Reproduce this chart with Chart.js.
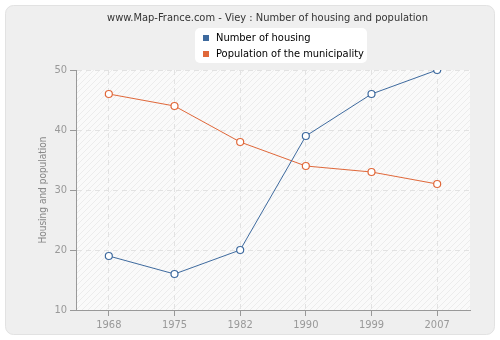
<!DOCTYPE html>
<html lang="en">
<head>
    <meta charset="UTF-8">
    <title>Viey : Number of housing and population</title>
    <script src="https://cdn.jsdelivr.net/npm/chart.js"></script>
    <style>
        body { margin: 0; background: #fff; font-family: "DejaVu Sans Condensed", "DejaVu Sans", sans-serif; }
        .wrap { position: relative; width: 500px; height: 340px; }
        .chart-title {
            position: absolute; top: 11px; left: 0; width: 535px;
            text-align: center; font-size: 11px; color: #333; white-space: nowrap;
        }
        .legend {
            position: absolute; left: 195px; top: 28px; width: 172px; height: 35px;
            background: #fff; border-radius: 5px; font-size: 11px; color: #000;
        }
        .legend div { position: relative; padding-left: 21px; height: 16px; line-height: 16px; white-space: nowrap; }
        .legend div:first-child { margin-top: 2px; }
        .legend span {
            position: absolute; left: 8px; top: 5px; width: 6px; height: 6px;
        }
    </style>
</head>
<body>
<div class="wrap">
    <canvas id="chart" width="500" height="340"></canvas>
    <div class="chart-title">www.Map-France.com - Viey : Number of housing and population</div>
    <div class="legend">
        <div><span style="background:#3e6a9e"></span>Number of housing</div>
        <div><span style="background:#e0683a"></span>Population of the municipality</div>
    </div>
</div>
<script>
    const years = ["1968", "1975", "1982", "1990", "1999", "2007"];
    const housing = [19, 16, 20, 39, 46, 50];
    const population = [46, 44, 38, 34, 33, 31];

    const font = "'DejaVu Sans Condensed', 'DejaVu Sans', sans-serif";

    // page frame + hatched plot background
    const backdrop = {
        id: "backdrop",
        beforeDraw(chart) {
            const ctx = chart.ctx;
            const a = chart.chartArea;
            ctx.save();
            ctx.fillStyle = "#fff";
            ctx.fillRect(0, 0, chart.width, chart.height);
            ctx.beginPath();
            ctx.roundRect(5.5, 5.5, 489, 329, 8);
            ctx.fillStyle = "#efefef";
            ctx.fill();
            ctx.strokeStyle = "#e2e2e2";
            ctx.stroke();

            ctx.fillStyle = "#fafafa";
            ctx.fillRect(a.left, a.top, a.right - a.left, a.bottom - a.top);
            ctx.beginPath();
            ctx.rect(a.left, a.top, a.right - a.left, a.bottom - a.top);
            ctx.clip();
            ctx.strokeStyle = "#ececec";
            ctx.lineWidth = 1;
            for (let x = a.left - (a.bottom - a.top); x < a.right; x += 6) {
                ctx.beginPath();
                ctx.moveTo(x, a.bottom);
                ctx.lineTo(x + (a.bottom - a.top), a.top);
                ctx.stroke();
            }
            ctx.restore();
        }
    };

    new Chart(document.getElementById("chart"), {
        type: "line",
        data: {
            labels: years,
            datasets: [{
                label: "Number of housing",
                data: housing,
                borderColor: "#3e6a9e",
                backgroundColor: "#fff",
                borderWidth: 1,
                pointRadius: 3.5,
                pointBorderWidth: 1.2,
                tension: 0
            }, {
                label: "Population of the municipality",
                data: population,
                borderColor: "#e0683a",
                backgroundColor: "#fff",
                borderWidth: 1,
                pointRadius: 3.5,
                pointBorderWidth: 1.2,
                tension: 0
            }]
        },
        options: {
            responsive: false,
            animation: false,
            layout: { padding: { left: 0, right: 30, top: 70, bottom: 0 } },
            plugins: {
                legend: { display: false },
                title: { display: false },
                tooltip: { enabled: false }
            },
            scales: {
                x: {
                    offset: true,
                    afterFit(s) { s.height = 30; },
                    grid: { color: "#e2e2e2", tickColor: "#999", tickLength: 6 },
                    border: { color: "#999", dash: [5, 4] },
                    ticks: { color: "#999", font: { family: font, size: 11 }, padding: 3 }
                },
                y: {
                    min: 10, max: 50,
                    afterFit(s) { s.width = 76; },
                    grid: { color: "#e2e2e2", tickColor: "#999", tickLength: 6 },
                    border: { color: "#999", dash: [5, 4] },
                    ticks: { stepSize: 10, color: "#999", font: { family: font, size: 11 }, padding: 3 },
                    title: {
                        display: true, text: "Housing and population", color: "#888",
                        font: { family: font, size: 10 },
                        padding: { top: 37, bottom: 0 }
                    }
                }
            }
        },
        plugins: [backdrop]
    });
</script>
</body>
</html>
